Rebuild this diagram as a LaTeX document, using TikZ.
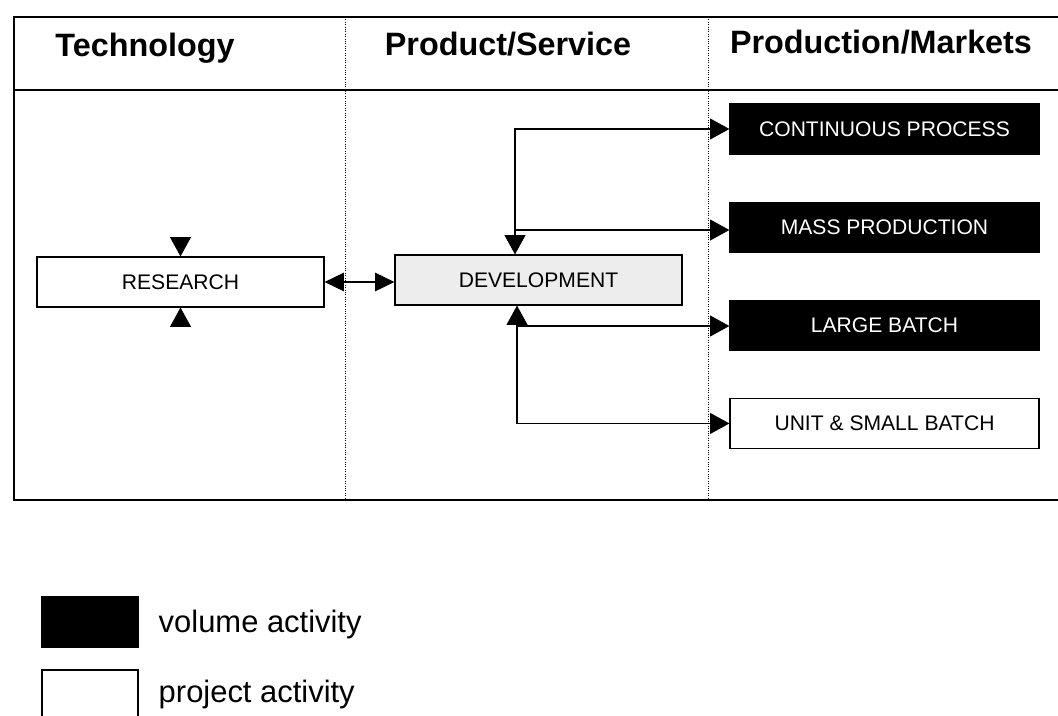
\documentclass[tikz,border=0pt]{standalone}
\usepackage{fontspec}
\setmainfont{Liberation Sans}
\usetikzlibrary{arrows.meta,positioning,calc}
\tikzset{
  volbox/.style={draw=black,fill=black,text=white,line width=0.8pt,
                 minimum width=7.725cm,minimum height=1.25cm,
                 inner sep=2pt,font=\fontsize{15}{18}\selectfont},
  projbox/.style={volbox,fill=white,text=black},
  devbox/.style={projbox,fill=gray!14,minimum width=7.175cm},
  headtxt/.style={font=\fontsize{23}{27}\selectfont\bfseries},
  legtxt/.style={font=\fontsize{22}{26}\selectfont,anchor=west},
  keybox/.style={draw=black,line width=0.8pt,minimum width=2.4cm,minimum height=1.25cm},
  flowarr/.style={-{Triangle[length=4.8mm,width=5.2mm]},line width=0.8pt},
  twoarr/.style={{Triangle[length=4.8mm,width=4.6mm]}-{Triangle[length=4.8mm,width=4.6mm]},line width=0.8pt},
  frameline/.style={line width=0.8pt},
  divline/.style={densely dotted,line width=0.7pt}
}
\begin{document}
\begin{tikzpicture}[x=0.025cm,y=-0.025cm]
  \useasboundingbox (0,0) rectangle (1058,716);
  % frame and columns
  \draw[frameline] (1058,17) -- (14,17) -- (14,500) -- (1058,500);
  \draw[frameline] (14,90) -- (1058,90);
  \draw[divline] (345,17) -- (345,500);
  \draw[divline] (708,17) -- (708,500);
  \node[headtxt] (hTech) at (145,48) {Technology};
  \node[headtxt] (hProd) at (508,44) {Product/Service};
  \node[headtxt] (hMark) at (881,42) {Production/Markets};
  % activities
  \node[projbox,minimum width=7.175cm] (res) at (180.5,282) {RESEARCH};
  \node[devbox] (dev) at (538.5,280) {DEVELOPMENT};
  \node[volbox] (cont) at (884.5,129) {CONTINUOUS PROCESS};
  \node[volbox,below=1.175cm of cont] (mass) {MASS PRODUCTION};
  \node[volbox,below=1.175cm of mass] (large) {LARGE BATCH};
  \node[projbox,below=1.175cm of large] (unit) {UNIT \& SMALL BATCH};
  \coordinate (jtop) at (515,230);
  \coordinate (jbot) at (517,326);
  % connectors
  \draw[flowarr] ([yshift=0.46cm]res.north) -- (res.north);
  \draw[flowarr] ([yshift=-0.46cm]res.south) -- (res.south);
  \draw[twoarr] (res.east) -- (res.east -| dev.west);
  \draw[flowarr] (jtop) -- (jtop |- dev.north);
  \draw[flowarr] (jtop) |- (cont.west);
  \draw[flowarr] (jtop) -- (jtop -| mass.west);
  \draw[flowarr] (jbot) -- (jbot |- dev.south);
  \draw[flowarr] (jbot) -- (jbot -| large.west);
  \draw[flowarr] (jbot) |- (unit.west);
  % legend
  \node[keybox,fill=black] (kVol) at (90,622) {};
  \node[legtxt,right=0.38cm of kVol,yshift=-0.05cm] (tVol) {volume activity};
  \node[keybox,fill=white,minimum height=1.2cm] (kProj) at (90,694) {};
  \node[legtxt,right=0.38cm of kProj] (tProj) {project activity};
\end{tikzpicture}
\end{document}
